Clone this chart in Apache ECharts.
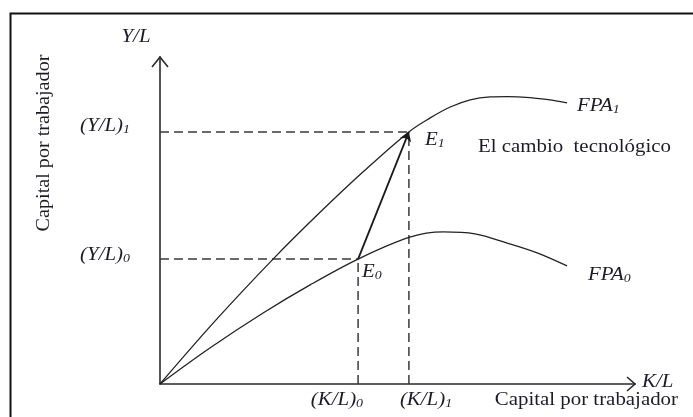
<!DOCTYPE html>
<html><head><meta charset="utf-8">
<script src="https://cdn.jsdelivr.net/npm/echarts@6/dist/echarts.min.js"></script>
<style>html,body{margin:0;padding:0;background:#fff}#c{width:693px;height:417px}</style>
</head><body><div id="c"></div>
<script>
// ---- Data (abstract units: capital per worker on x, output per worker on y) ----
const xMax = 100;
const yMax = 100;
const klValues = [41.7, 52.4];            // (K/L)0, (K/L)1
const ylValues = [38.2, 77.1];            // (Y/L)0, (Y/L)1
const xTickLabels = ['(K/L)0', '(K/L)1'];
const yTickLabels = ['(Y/L)0', '(Y/L)1'];
const pointNames = ['E0', 'E1'];
const curveNames = ['FPA0', 'FPA1'];
const fpa0K = [0, 10.5, 21.7, 31.6, 41.7, 52.6, 59.6, 66.3, 73.1, 79.4, 85.7];
const fpa0Y = [0, 11.0, 21.7, 30.3, 38.2, 44.9, 46.5, 45.9, 43.1, 40.1, 36.1];
const fpa1K = [0, 11.8, 23.8, 33.7, 43.0, 52.4, 56.8, 61.1, 65.3, 69.5, 73.1, 77.9, 82.1, 85.7];
const fpa1Y = [0, 19.6, 38.2, 52.5, 65.2, 77.1, 81.3, 84.7, 86.9, 87.8, 87.9, 87.6, 86.9, 86.0];
const axisNameY = 'Y/L';
const axisNameX = 'K/L';
const axisTitle = 'Capital por trabajador';
const noteText = 'El cambio  tecnológico';

// ---- Styling ----
const FONT = '"Liberation Serif", "Times New Roman", serif';
const TXT = '#1c1c26';
const STRETCH = 1.16;
const rich = {
  m: { fontFamily: FONT, fontStyle: 'italic', fontSize: 18, lineHeight: 20, fill: TXT },
  s: { fontFamily: FONT, fontStyle: 'italic', fontSize: 12, lineHeight: 14, verticalAlign: 'bottom', fill: TXT },
  n: { fontFamily: FONT, fontSize: 18, lineHeight: 20, fill: TXT }
};
const sub = s => `{m|${s.slice(0, -1)}}{s|${s.slice(-1)}}`;

const fpa0 = fpa0K.map((k, i) => [k, fpa0Y[i]]);
const fpa1 = fpa1K.map((k, i) => [k, fpa1Y[i]]);
const E = klValues.map((k, i) => [k, ylValues[i]]);

// annotations anchored to data coordinates (pixel offsets only for typography)
const annotations = [
  { at: [0, yMax], text: `{m|${axisNameY}}`, dx: -24, dy: -20, align: 'center' },
  { at: [0, ylValues[1]], text: sub(yTickLabels[1]), dx: -30, dy: -6, align: 'right' },
  { at: [0, ylValues[0]], text: sub(yTickLabels[0]), dx: -30, dy: -4, align: 'right' },
  { at: E[1], text: sub(pointNames[1]), dx: 16, dy: 8, align: 'left' },
  { at: E[0], text: sub(pointNames[0]), dx: 4, dy: 13, align: 'left' },
  { at: E[1], text: `{n|${noteText}}`, dx: 69, dy: 15, align: 'left' },
  { at: fpa1[fpa1.length - 1], text: sub(curveNames[1]), dx: 10, dy: 3, align: 'left' },
  { at: fpa0[fpa0.length - 1], text: sub(curveNames[0]), dx: 21, dy: 9, align: 'left' },
  { at: [xMax, 0], text: `{m|${axisNameX}}`, dx: 7, dy: -2, align: 'left' },
  { at: [klValues[0], 0], text: sub(xTickLabels[0]), dx: 5, dy: 16, align: 'right' },
  { at: [klValues[1], 0], text: sub(xTickLabels[1]), dx: -9, dy: 16, align: 'left' },
  { at: [xMax, 0], text: `{n|${axisTitle}}`, dx: 43, dy: 16, align: 'right' },
  { at: [0, yMax], text: `{n|${axisTitle}}`, dx: -116, dy: 86, align: 'center', rot: Math.PI / 2, sx: 1.12 }
];

const dashStyle = { color: '#3a3a3a', width: 1.5, type: [9, 5] };
const dashedSeries = [];
E.forEach((p, i) => {
  dashedSeries.push({ type: 'line', data: [[0, p[1]], p], symbol: 'none', lineStyle: dashStyle, silent: true, z: 1 });
  dashedSeries.push({ type: 'line', data: [[p[0], 0], p], symbol: 'none', lineStyle: dashStyle, silent: true, z: 1 });
});

const chart = echarts.init(document.getElementById('c'), null, { renderer: 'canvas' });
chart.setOption({
  animation: false,
  backgroundColor: '#fff',
  grid: { left: 160, right: 58, top: 57, bottom: 33 },
  xAxis: {
    type: 'value', min: 0, max: xMax,
    axisLine: { show: true, onZero: false, lineStyle: { color: '#2a2a2a', width: 1.6 } },
    axisTick: { show: false }, axisLabel: { show: false }, splitLine: { show: false }
  },
  yAxis: {
    type: 'value', min: 0, max: yMax,
    axisLine: { show: true, onZero: false, lineStyle: { color: '#2a2a2a', width: 1.6 } },
    axisTick: { show: false }, axisLabel: { show: false }, splitLine: { show: false }
  },
  graphic: [{
    type: 'rect', left: 8, top: 11, silent: true,
    shape: { x: 0, y: 0, width: 720, height: 440 },
    style: { fill: 'none', stroke: '#111', lineWidth: 2 }
  }],
  series: [
    ...dashedSeries,
    { type: 'line', name: curveNames[0], data: fpa0, symbol: 'none', smooth: 0.35,
      lineStyle: { color: '#222', width: 1.3 }, z: 3 },
    { type: 'line', name: curveNames[1], data: fpa1, symbol: 'none', smooth: 0.35,
      lineStyle: { color: '#222', width: 1.3 }, z: 3 },
    { type: 'lines', coordinateSystem: 'cartesian2d', data: [{ coords: [E[0], E[1]] }],
      symbol: ['none', 'arrow'], symbolSize: [0, 9],
      lineStyle: { color: '#1a1a1a', width: 1.8, opacity: 1 }, z: 4 },
    { type: 'custom', coordinateSystem: 'cartesian2d', z: 5, silent: true,
      data: [[xMax, 0, 0], [0, yMax, 1]],
      renderItem: (params, api) => {
        const p = api.coord([api.value(0), api.value(1)]);
        const pts = api.value(2) === 0
          ? [[p[0] - 8, p[1] - 7], p, [p[0] - 8, p[1] + 7]]
          : [[p[0] - 8, p[1] + 10], p, [p[0] + 8, p[1] + 10]];
        return { type: 'polyline', shape: { points: pts }, style: { stroke: '#2a2a2a', lineWidth: 1.6, fill: 'none' } };
      } },
    { type: 'custom', coordinateSystem: 'cartesian2d', z: 6, silent: true,
      data: annotations.map((a, i) => [a.at[0], a.at[1], i]),
      renderItem: (params, api) => {
        const a = annotations[api.value(2)];
        const p = api.coord([api.value(0), api.value(1)]);
        return {
          type: 'text', x: p[0] + a.dx, y: p[1] + a.dy,
          rotation: a.rot || 0, scaleX: a.sx || STRETCH, scaleY: 1,
          style: { x: 0, y: 0, text: a.text, rich: rich, align: a.align, verticalAlign: 'middle', fill: TXT }
        };
      } }
  ]
});
</script>
</body></html>
